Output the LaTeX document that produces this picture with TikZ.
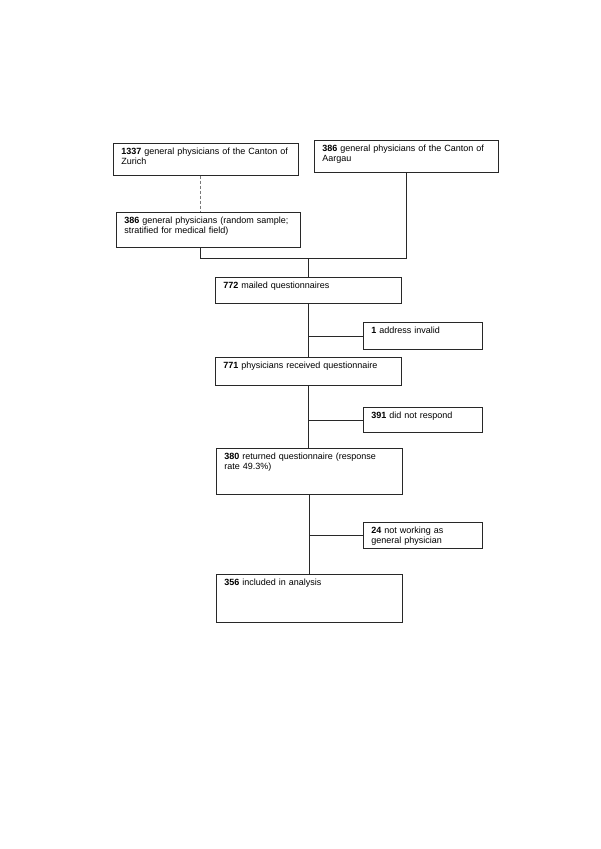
\documentclass[tikz,border=0pt]{standalone}
\usepackage{fontspec}
\setmainfont{Liberation Sans}
\usepackage{tikz}
\usetikzlibrary{positioning}
\definecolor{LineGray}{RGB}{40,40,40}
\definecolor{DashGray}{RGB}{120,120,120}

\begin{document}
\begin{tikzpicture}[
    x=1pt, y=-1pt,
    box/.style={rectangle, draw=LineGray, line width=0.7pt, anchor=north west, align=left, inner xsep=8pt, inner ysep=3pt, text height=8pt, font=\fontsize{9}{10}\selectfont},
    wide/.style={box, text width=170pt},
    side/.style={box, text width=103pt},
    link/.style={draw=LineGray, line width=0.7pt},
    fine/.style={draw=DashGray, line width=0.4pt, densely dashed},
]
\useasboundingbox (0,0) rectangle (600,849);

% source populations
\node[box, text width=169pt, text depth=18pt] (zur) at (113,143) {\textbf{1337} general physicians of the Canton of\\Zurich};
\node[box, text width=168pt, text depth=18pt] (aar) at (314,140) {\textbf{386} general physicians of the Canton of\\Aargau};
\node[box, text width=168pt, text depth=21pt] (smp) at (116,212) {\textbf{386} general physicians (random sample;\\stratified for medical field)};

% main column
\node[wide, text depth=12pt] (mail) at (215,277) {\textbf{772} mailed questionnaires};
\node[wide, text depth=14pt] (recv) at (215,357) {\textbf{771} physicians received questionnaire};
\node[wide, text depth=32pt] (back) at (216,448) {\textbf{380} returned questionnaire (response\\rate 49.3\%)};
\node[wide, text depth=34pt] (incl) at (216,574) {\textbf{356} included in analysis};

% exclusions
\node[side, text depth=13pt] (inv) at (363,322) {\textbf{1} address invalid};
\node[side, text depth=11pt] (nore) at (363,407) {\textbf{391} did not respond};
\node[side, text depth=12pt] (nogp) at (363,522) {\textbf{24} not working as\\general physician};

% joins
\coordinate (split) at (200,258);
\draw[fine] (zur.south -| split) -- (smp.north -| split);
\draw[link] (smp.south -| split) -- (split) -| (aar.south);
\draw[link] (split -| mail.north) -- (mail.north);

\draw[link] (mail.south) -- (recv.north);
\draw[link] (recv.south) -- (back.north -| recv.south);
\draw[link] (back.south) -- (incl.north);

\draw[link] (mail.south |- inv.west) -- (inv.west);
\draw[link] (recv.south |- nore.west) -- (nore.west);
\draw[link] (back.south |- nogp.west) -- (nogp.west);
\end{tikzpicture}
\end{document}
